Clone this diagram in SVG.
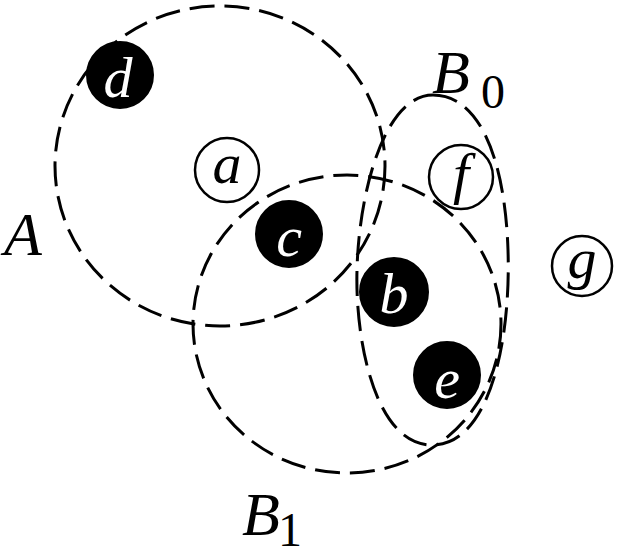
<svg xmlns="http://www.w3.org/2000/svg" width="625" height="556" viewBox="0 0 625 556">
<style>
.set{fill:none;stroke:#000;stroke-width:3;stroke-dasharray:25 10}
.full{fill:#000;stroke:#000;stroke-width:2}
.open{fill:#fff;stroke:#000;stroke-width:2.5}
.lt{font-size:58px;text-anchor:middle}
.w{fill:#fff}
.k{fill:#000}
.lab{font-size:62px;fill:#000}
.sub{font-size:48px;fill:#000}
</style>
<rect width="625" height="556" fill="#fff"/>
<g id="sets">
<ellipse id="A" class="set" cx="220" cy="166" rx="165" ry="160"/>
<ellipse id="B1" class="set" cx="347" cy="324" rx="154" ry="149"/>
<path id="B0" class="set" d="M 433 95 C 480 95, 505 160, 508 250 C 511 340, 490 445, 432 445 C 375 445, 355 340, 357 270 C 359 190, 385 95, 433 95 Z"/>
</g>
<g font-family="Liberation Serif, Times New Roman, serif" font-style="italic">
<g id="node-d"><circle class="full" cx="120" cy="75" r="33"/><text class="lt w" x="118" y="97">d</text></g>
<g id="node-a"><circle class="open" cx="227" cy="170" r="32"/><text class="lt k" x="227" y="183">a</text></g>
<g id="node-c"><circle class="full" cx="289" cy="234" r="33"/><text class="lt w" x="289" y="256">c</text></g>
<g id="node-b"><circle class="full" cx="394" cy="292" r="34"/><text class="lt w" x="394" y="313">b</text></g>
<g id="node-e"><circle class="full" cx="447" cy="375" r="33"/><text class="lt w" x="447" y="398">e</text></g>
<g id="node-f"><circle class="open" cx="461" cy="177" r="32"/><text class="lt k" x="461" y="193">f</text></g>
<g id="node-g"><circle class="open" cx="582" cy="266" r="30"/><text class="lt k" x="582" y="278">g</text></g>
</g>
<g id="labels" font-family="Liberation Serif, Times New Roman, serif">
<text class="lab" x="4" y="255" font-style="italic">A</text>
<text class="lab" x="432" y="93" font-style="italic">B</text>
<text class="sub" x="481" y="108">0</text>
<text class="lab" x="242" y="535" font-style="italic">B</text>
<text class="sub" x="278" y="546">1</text>
</g>
</svg>
